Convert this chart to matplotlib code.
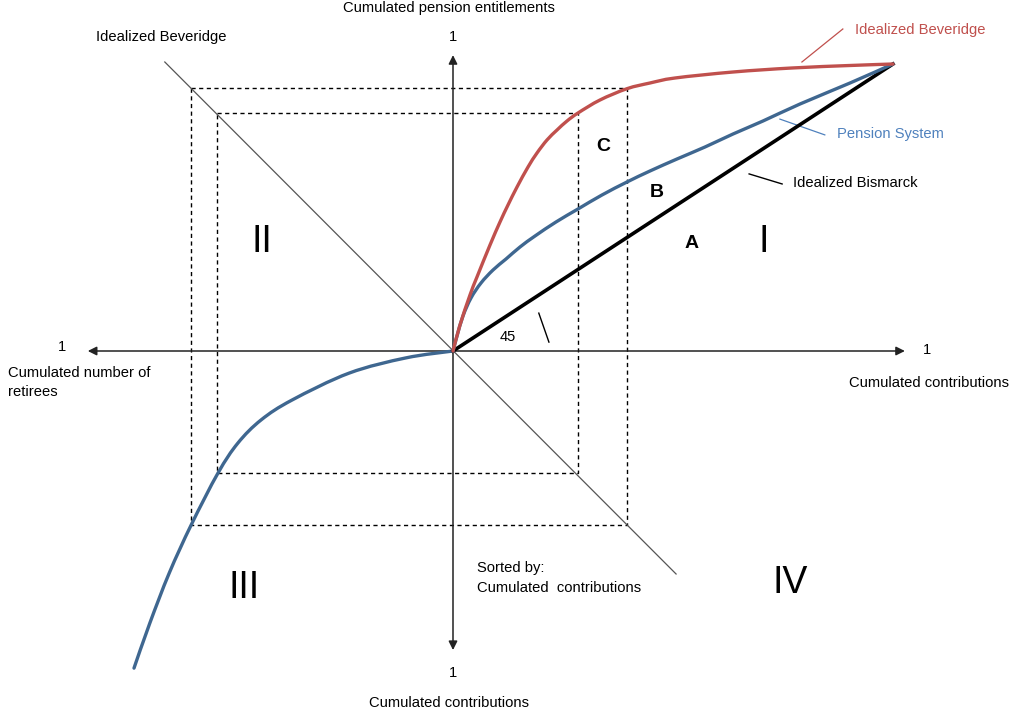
#!/usr/bin/env python3
"""Four-quadrant diagram: pension entitlements vs contributions (Beveridge / Bismarck)."""

import matplotlib

matplotlib.use("Agg")
import matplotlib.pyplot as plt  # noqa: E402
from matplotlib.patches import PathPatch  # noqa: E402
from matplotlib.path import Path  # noqa: E402

# units: x = 1 at the end of the Bismarck line, y = 1 likewise
BEV_X = [0, 0.0159, 0.0386, 0.0545, 0.0841, 0.1068, 0.1250, 0.1455, 0.1705,
         0.1909, 0.2136, 0.2364, 0.2591, 0.2841, 0.3341, 0.3955, 0.4477,
         0.5045, 0.6364, 0.7705, 0.9023, 1.0]
BEV_Y = [0, 0.0906, 0.1951, 0.2578, 0.3693, 0.4495, 0.5087, 0.5714, 0.6411,
         0.6899, 0.7352, 0.7700, 0.8014, 0.8293, 0.8746, 0.9140, 0.9338,
         0.9512, 0.9721, 0.9861, 0.9948, 1.0]

PEN_X = [0, 0.0091, 0.0227, 0.0409, 0.0636, 0.0909, 0.1205, 0.1523, 0.1864,
         0.2341, 0.2841, 0.3386, 0.3955, 0.4477, 0.5091, 0.5727, 0.6364,
         0.7045, 0.7886, 0.9023, 1.0]
PEN_Y = [0, 0.0523, 0.1220, 0.1847, 0.2369, 0.2822, 0.3206, 0.3624, 0.4007,
         0.4495, 0.4948, 0.5436, 0.5889, 0.6272, 0.6690, 0.7108, 0.7561,
         0.8014, 0.8606, 0.9338, 1.0]

BIS_X = [0, 1.0]
BIS_Y = [0, 1.0]

# quadrant III: retirees vs contributions
RET_X = [0, -0.107, -0.236, -0.366, -0.436, -0.489, -0.534, -0.595, -0.645,
         -0.689, -0.725]
RET_Y = [0, -0.024, -0.077, -0.171, -0.240, -0.321, -0.425, -0.606, -0.774,
         -0.948, -1.105]

DIAG_X = [-0.655, 0.507]
DIAG_Y = [1.007, -0.777]

# dashed projection rectangles (outer, inner)
RECT_LEFT = [-0.595, -0.536]
RECT_RIGHT = [0.395, 0.284]
RECT_TOP = [0.916, 0.829]
RECT_BOTTOM = [-0.605, -0.425]

AXIS_ENDS = [(1.027, 0), (-0.830, 0), (0, 1.031), (0, -1.042)]

RED = "#C0504D"
BLUE = "#3F6790"
BLUE_TXT = "#4F81BD"
FONT = ["Liberation Sans", "DejaVu Sans"]


def smooth_path(xs, ys):
    """Catmull-Rom through the read points, drawn as cubic Bezier segments."""
    pts = list(zip(xs, ys))
    verts = [pts[0]]
    codes = [Path.MOVETO]
    n = len(pts)
    for i in range(n - 1):
        p0 = pts[max(i - 1, 0)]
        p1 = pts[i]
        p2 = pts[i + 1]
        p3 = pts[min(i + 2, n - 1)]
        c1 = (p1[0] + (p2[0] - p0[0]) / 6, p1[1] + (p2[1] - p0[1]) / 6)
        c2 = (p2[0] - (p3[0] - p1[0]) / 6, p2[1] - (p3[1] - p1[1]) / 6)
        verts += [c1, c2, p2]
        codes += [Path.CURVE4] * 3
    return Path(verts, codes)


def curve(ax, xs, ys, color, lw):
    ax.add_patch(PathPatch(smooth_path(xs, ys), fill=False, edgecolor=color,
                           lw=lw, capstyle="round", zorder=3))


def main() -> int:
    plt.rcParams["font.family"] = FONT
    fig = plt.figure(figsize=(10.16, 7.15), dpi=100)
    ax = fig.add_axes([0, 0, 1, 1])
    ax.set_xlim(-453 / 440, 563 / 440)
    ax.set_ylim(-364 / 287, 351 / 287)
    ax.axis("off")

    dash = dict(color="black", lw=1.0, linestyle=(0, (3, 2.5)))
    for l, r, t, b in zip(RECT_LEFT, RECT_RIGHT, RECT_TOP, RECT_BOTTOM):
        ax.plot([l, r, r, l, l], [t, t, b, b, t], **dash)

    ax.plot(DIAG_X, DIAG_Y, color="#555555", lw=0.9)

    for end in AXIS_ENDS:
        ax.annotate("", xy=end, xytext=(0, 0),
                    arrowprops=dict(arrowstyle="-|>", color="#222222", lw=1.1,
                                    mutation_scale=13, shrinkA=0, shrinkB=0))

    curve(ax, RET_X, RET_Y, BLUE, 2.4)
    ax.plot(BIS_X, BIS_Y, color="black", lw=2.6, zorder=3)
    curve(ax, PEN_X, PEN_Y, BLUE, 2.4)
    curve(ax, BEV_X, BEV_Y, RED, 2.4)

    # leader lines
    ax.plot([0.793, 0.886], [1.007, 1.122], color=RED, lw=0.9)
    ax.plot([0.743, 0.845], [0.808, 0.753], color=BLUE_TXT, lw=0.9)
    ax.plot([0.673, 0.748], [0.617, 0.582], color="black", lw=1.0)
    ax.plot([0.195, 0.218], [0.132, 0.031], color="black", lw=1.0)

    fs = 10.6
    ax.text(-0.009, 1.195, "Cumulated pension entitlements", fontsize=fs,
            ha="center", va="center")
    ax.text(0, 1.094, "1", fontsize=fs, ha="center", va="center")
    ax.text(-0.664, 1.094, "Idealized Beveridge", fontsize=fs, ha="center", va="center")
    ax.text(0.914, 1.118, "Idealized Beveridge", fontsize=fs, color=RED,
            ha="left", va="center")
    ax.text(0.873, 0.756, "Pension System", fontsize=fs, color=BLUE_TXT,
            ha="left", va="center")
    ax.text(0.773, 0.585, "Idealized Bismarck", fontsize=fs, ha="left", va="center")
    ax.text(0.125, 0.049, "45", fontsize=fs, ha="center", va="center")

    for s, x, y in [("C", 0.341, 0.714), ("B", 0.464, 0.551), ("A", 0.543, 0.376)]:
        ax.text(x, y, s, fontsize=14, fontweight="bold", ha="center", va="center")
    for s, x, y in [("I", 0.707, 0.380), ("II", -0.434, 0.380),
                    ("III", -0.475, -0.826), ("IV", 0.766, -0.808)]:
        ax.text(x, y, s, fontsize=27, ha="center", va="center")

    ax.text(-0.889, 0.014, "1", fontsize=fs, ha="center", va="center")
    ax.text(-1.011, -0.052, "Cumulated number of\nretirees", fontsize=fs,
            ha="left", va="top", linespacing=1.45)
    ax.text(1.077, 0.003, "1", fontsize=fs, ha="center", va="center")
    ax.text(1.082, -0.111, "Cumulated contributions", fontsize=fs,
            ha="center", va="center")
    ax.text(0.055, -0.733, "Sorted by:\nCumulated  contributions", fontsize=fs,
            ha="left", va="top", linespacing=1.55)
    ax.text(0, -1.122, "1", fontsize=fs, ha="center", va="center")
    ax.text(-0.009, -1.226, "Cumulated contributions", fontsize=fs,
            ha="center", va="center")

    fig.savefig("out.png", dpi=100, facecolor="white")
    plt.close(fig)
    return 0


if __name__ == "__main__":
    raise SystemExit(main())
